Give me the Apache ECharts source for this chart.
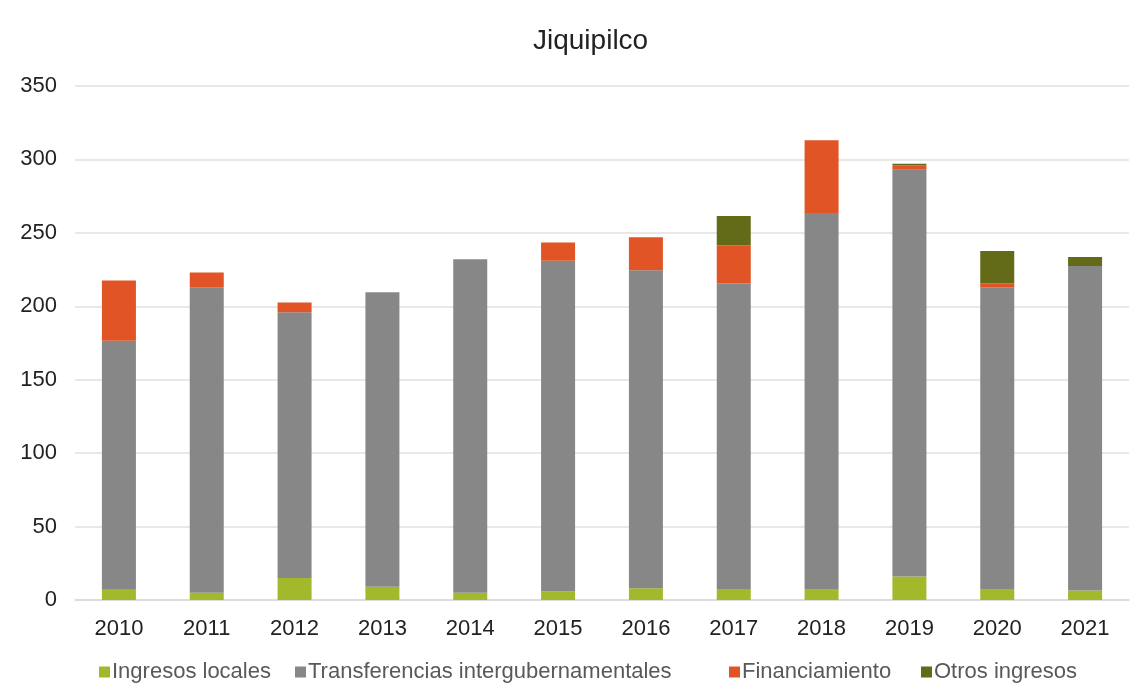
<!DOCTYPE html>
<html>
<head>
<meta charset="utf-8">
<title>Jiquipilco</title>
<script src="https://cdn.jsdelivr.net/npm/echarts@6/dist/echarts.min.js"></script>
<style>
  html, body { margin: 0; padding: 0; background: #fff; }
  #chart { width: 1146px; height: 690px; }
</style>
</head>
<body>
<div id="chart"></div>
<script>
// categories
var years = ['2010', '2011', '2012', '2013', '2014', '2015', '2016', '2017', '2018', '2019', '2020', '2021'];

// series values
var ingresosLocales = [7, 5, 15, 9, 5, 6, 8, 7.5, 7.5, 16, 7.5, 6.5];
var transferencias = [169.5, 208, 181, 200.5, 227, 225, 216.5, 208, 256, 277, 205.5, 221];
var financiamiento = [41, 10, 6.5, 0, 0, 12.5, 22.5, 26, 49.5, 3, 2.7, 0];
var otrosIngresos = [0, 0, 0, 0, 0, 0, 0, 20, 0, 1, 22, 6];

var seriesNames = ['Ingresos locales', 'Transferencias intergubernamentales', 'Financiamiento', 'Otros ingresos'];
var seriesColors = ['#A3B82A', '#878787', '#E15425', '#636B18'];
// legend entries are spread wider than the default layout, one per position
var legendLeft = [94, 290, 724, 916];

var chart = echarts.init(document.getElementById('chart'), null, {renderer: 'canvas'});

function makeSeries(i, data) {
    return {
        name: seriesNames[i],
        type: 'bar',
        stack: 'total',
        barWidth: 34,
        itemStyle: {color: seriesColors[i]},
        emphasis: {disabled: true},
        data: data
    };
}

function makeLegend(i) {
    return {
        left: legendLeft[i],
        bottom: 2,
        itemWidth: 11,
        itemHeight: 11,
        icon: 'rect',
        textStyle: {fontSize: 22, color: '#595959', padding: [0, 0, 0, -3]},
        data: [seriesNames[i]]
    };
}

var option = {
    backgroundColor: '#fff',
    animation: false,
    textStyle: {fontFamily: 'Liberation Sans'},
    title: {
        text: 'Jiquipilco',
        left: 528,
        top: 22,
        textStyle: {fontSize: 28, fontWeight: 'normal', color: '#222', fontFamily: 'Liberation Sans'}
    },
    legend: [makeLegend(0), makeLegend(1), makeLegend(2), makeLegend(3)],
    grid: {left: 75, right: 17, top: 86, bottom: 90, containLabel: false},
    xAxis: {
        type: 'category',
        data: years,
        axisTick: {show: false},
        axisLine: {lineStyle: {color: '#d9d9d9', width: 1.5}},
        axisLabel: {fontSize: 22, color: '#222', margin: 18}
    },
    yAxis: {
        type: 'value',
        min: 0,
        max: 350,
        interval: 50,
        axisLine: {show: false},
        axisTick: {show: false},
        splitLine: {lineStyle: {color: '#e0e0e0', width: 1.5}},
        axisLabel: {fontSize: 22, color: '#222', margin: 18}
    },
    series: [
        makeSeries(0, ingresosLocales),
        makeSeries(1, transferencias),
        makeSeries(2, financiamiento),
        makeSeries(3, otrosIngresos)
    ]
};

chart.setOption(option);
</script>
</body>
</html>
